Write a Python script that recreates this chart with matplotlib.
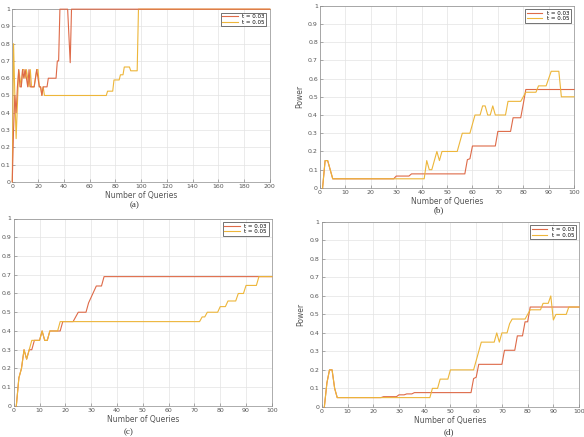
import numpy as np
import matplotlib
matplotlib.use("Agg")
import matplotlib.pyplot as plt

# ---- data ----
# (a) 200 queries
a_x03 = [0, 1, 2, 3, 4, 5, 6, 7, 8, 9, 10, 11, 12, 13, 14, 15, 16, 17, 18, 19, 20, 21,
         22, 23, 24, 25, 27, 28, 34, 35, 36, 37, 43, 45, 46, 200]
a_y03 = [0, 0.3, 0.5, 0.4, 0.55, 0.65, 0.55, 0.55, 0.65, 0.6, 0.65, 0.6, 0.55, 0.65, 0.55,
         0.55, 0.55, 0.55, 0.6, 0.65, 0.6, 0.55, 0.55, 0.5, 0.55, 0.55, 0.55, 0.6, 0.6,
         0.7, 0.7, 1, 1, 0.69, 1, 1]
a_x05 = [0, 1, 2, 3, 4, 5, 6, 7, 8, 9, 10, 11, 12, 13, 14, 15, 16, 17, 18, 19, 20, 21,
         22, 23, 24, 25, 73, 74, 78, 79, 83, 84, 86, 87, 91, 92, 97, 98, 200]
a_y05 = [0, 0.8, 0.5, 0.25, 0.45, 0.65, 0.6, 0.55, 0.65, 0.65, 0.6, 0.65, 0.6, 0.55, 0.65,
         0.55, 0.55, 0.55, 0.6, 0.65, 0.65, 0.55, 0.55, 0.5, 0.55, 0.5, 0.5, 0.525, 0.525,
         0.59, 0.59, 0.62, 0.62, 0.665, 0.665, 0.643, 0.643, 1, 1]

# (b) 100 queries
b_x03 = [1, 2, 3, 5, 29, 30, 35, 36, 57, 58, 59, 60, 69, 70, 75, 76, 79, 80, 81, 100]
b_y03 = [0, 0.15, 0.15, 0.05, 0.05, 0.065, 0.065, 0.077, 0.077, 0.155, 0.16, 0.23, 0.23,
         0.31, 0.31, 0.385, 0.385, 0.46, 0.54, 0.54]
b_x05 = [1, 2, 3, 5, 41, 42, 43, 44, 46, 47, 48, 54, 56, 59, 61, 63, 64, 65, 66, 67, 68,
         69, 73, 74, 79, 81, 85, 86, 89, 91, 94, 95, 100]
b_y05 = [0, 0.15, 0.15, 0.05, 0.05, 0.15, 0.1, 0.1, 0.2, 0.15, 0.2, 0.2, 0.3, 0.3, 0.4,
         0.4, 0.45, 0.45, 0.4, 0.4, 0.45, 0.4, 0.4, 0.475, 0.475, 0.525, 0.525, 0.56, 0.56,
         0.64, 0.64, 0.5, 0.5]

# (c) 100 queries
c_x03 = [1, 2, 3, 4, 5, 6, 7, 8, 10, 11, 12, 13, 14, 18, 19, 23, 25, 28, 29, 32, 34, 35, 100]
c_y03 = [0, 0.15, 0.2, 0.3, 0.25, 0.3, 0.3, 0.35, 0.35, 0.4, 0.35, 0.35, 0.4, 0.4, 0.45,
         0.45, 0.5, 0.5, 0.55, 0.64, 0.64, 0.69, 0.69]
c_x05 = [1, 2, 3, 4, 5, 6, 7, 10, 11, 12, 13, 14, 17, 18, 72, 73, 74, 75, 79, 80, 82, 83,
         86, 87, 89, 90, 94, 95, 100]
c_y05 = [0, 0.15, 0.2, 0.3, 0.25, 0.3, 0.35, 0.35, 0.4, 0.35, 0.35, 0.4, 0.4, 0.45, 0.45,
         0.475, 0.475, 0.5, 0.5, 0.53, 0.53, 0.56, 0.56, 0.6, 0.6, 0.643, 0.643, 0.69, 0.69]

# (d) 100 queries
d_x03 = [1, 2, 3, 4, 5, 6, 23, 24, 29, 30, 32, 33, 35, 36, 58, 59, 60, 61, 70, 71, 75, 76,
         78, 79, 80, 81, 100]
d_y03 = [0, 0.13, 0.2, 0.2, 0.1, 0.05, 0.05, 0.055, 0.055, 0.065, 0.065, 0.07, 0.07, 0.077,
         0.077, 0.153, 0.16, 0.23, 0.23, 0.306, 0.306, 0.384, 0.384, 0.46, 0.46, 0.54, 0.54]
d_x05 = [1, 2, 3, 4, 5, 6, 42, 43, 45, 46, 49, 50, 59, 60, 62, 67, 68, 69, 70, 72, 73, 74,
         79, 81, 85, 86, 88, 89, 90, 91, 95, 96, 100]
d_y05 = [0, 0.13, 0.2, 0.2, 0.1, 0.05, 0.05, 0.1, 0.1, 0.15, 0.15, 0.2, 0.2, 0.25, 0.35,
         0.35, 0.4, 0.35, 0.4, 0.4, 0.45, 0.475, 0.475, 0.525, 0.525, 0.56, 0.56, 0.6, 0.47,
         0.5, 0.5, 0.54, 0.54]

red = "#DE6A48"
yel = "#EDB63A"
gray = "#555555"


def panel(fig, rect, x03, y03, x05, y05, xmax, xstep, ylabel, tag, tagpos, red_top=False):
    ax = fig.add_axes(rect)
    zr = 3 if red_top else 2
    ax.plot(x03, y03, color=red, lw=0.8, label="t = 0.03", clip_on=False, zorder=zr)
    ax.plot(x05, y05, color=yel, lw=0.8, label="t = 0.05", clip_on=False, zorder=2.5)
    ax.set_xlim(0, xmax)
    ax.set_ylim(0, 1)
    ax.set_xticks(np.arange(0, xmax + 1, xstep))
    yt = np.round(np.arange(0, 1.01, 0.1), 1)
    ax.set_yticks(yt)
    ax.set_yticklabels(["0" if v == 0 else ("1" if v == 1 else "%g" % v) for v in yt])
    ax.grid(True, color="#E3E3E3", lw=0.5)
    ax.set_axisbelow(True)
    for s in ax.spines.values():
        s.set_color("#8C8C8C")
        s.set_linewidth(0.5)
        s.set_zorder(1)
    ax.tick_params(direction="in", length=2, width=0.5, colors="#8C8C8C",
                   labelcolor=gray, labelsize=4.5, pad=1.5)
    ax.set_xlabel("Number of Queries", fontsize=5.5, color=gray, labelpad=1.5)
    if ylabel:
        ax.set_ylabel(ylabel, fontsize=5.5, color=gray, labelpad=3)
    leg = ax.legend(loc="upper right", fontsize=4, frameon=True, fancybox=False,
                    handlelength=2.8, borderpad=0.3, labelspacing=0.1,
                    borderaxespad=0.6)
    leg.get_frame().set_edgecolor("#333333")
    leg.get_frame().set_linewidth(0.6)
    leg.set_zorder(5)
    fig.text(tagpos[0], tagpos[1], tag, fontsize=6.5, family="Liberation Serif",
             ha="center", va="center", color="#333333")
    return ax


fig = plt.figure(figsize=(5.84, 4.37), dpi=100)
panel(fig, [0.021, 0.584, 0.441, 0.395], a_x03, a_y03, a_x05, a_y05, 200, 20, None,
      "(a)", (0.231, 0.531), red_top=True)
panel(fig, [0.548, 0.570, 0.435, 0.417], b_x03, b_y03, b_x05, b_y05, 100, 10, "Power",
      "(b)", (0.751, 0.519))
panel(fig, [0.0235, 0.071, 0.442, 0.429], c_x03, c_y03, c_x05, c_y05, 100, 10, None,
      "(c)", (0.220, 0.011))
panel(fig, [0.551, 0.069, 0.4406, 0.423], d_x03, d_y03, d_x05, d_y05, 100, 10, "Power",
      "(d)", (0.769, 0.011))
fig.savefig("out.png", dpi=100)
